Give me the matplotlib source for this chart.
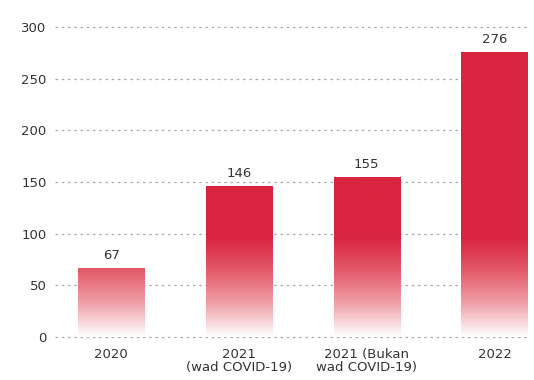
import numpy as np
import matplotlib
matplotlib.use("Agg")
import matplotlib.pyplot as plt
from matplotlib.colors import LinearSegmentedColormap

# Datos
categories = ["2020", "2021\n(wad COVID-19)", "2021 (Bukan\nwad COVID-19)", "2022"]
values = [67, 146, 155, 276]
yticks = [0, 50, 100, 150, 200, 250, 300]

bar_color = "#d9243f"
text_color = "#333333"

fig = plt.figure(figsize=(5.34, 3.8), dpi=100)
ax = fig.add_axes([0.103, 0.113, 0.89, 0.816])

x = np.arange(len(categories))
bars = ax.bar(x, values, width=0.52, color="none", edgecolor="none", zorder=3)

# degradado: blanco en 0, color pleno a partir de ~95
cmap = LinearSegmentedColormap.from_list("grad", ["#ffffff", "#f0a0a8", "#e35a6a", bar_color])
ymax_grad = 300
img_vals = np.clip(np.linspace(0, ymax_grad, 256) / 96.0, 0, 1).reshape(-1, 1)
for b in bars:
    x0, w = b.get_x(), b.get_width()
    im = ax.imshow(img_vals, cmap=cmap, vmin=0, vmax=1, origin="lower", aspect="auto",
                   extent=[x0, x0 + w, 0, ymax_grad], zorder=3)
    im.set_clip_path(b)

for xi, v in zip(x, values):
    ax.text(xi, v + 6, str(v), ha="center", va="bottom", fontsize=9.5, color=text_color)

ax.set_xlim(-0.44, 3.28)
ax.set_ylim(0, 300)
ax.set_yticks(yticks)
ax.set_xticks(x)
ax.set_xticklabels(categories, fontsize=9.5, color=text_color, linespacing=1.0)
ax.tick_params(axis="both", length=0, colors=text_color, labelsize=9.5)
ax.tick_params(axis="y", pad=6)
ax.tick_params(axis="x", pad=8)
for s in ax.spines.values():
    s.set_visible(False)
ax.yaxis.grid(True, linestyle=(0, (2, 3)), color="#aaaaaa", linewidth=0.9, zorder=0,
              clip_on=False)
ax.set_axisbelow(True)

fig.savefig("out.png", dpi=100)
